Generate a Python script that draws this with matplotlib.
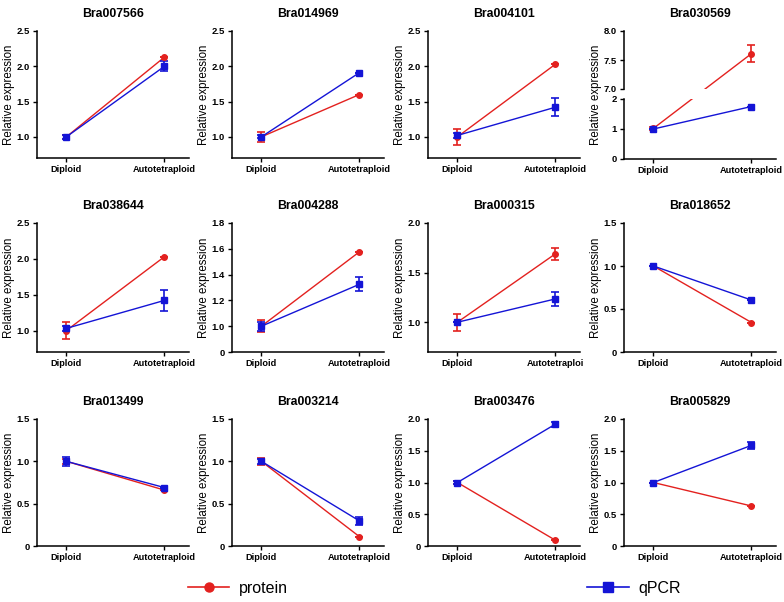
import matplotlib.pyplot as plt
from matplotlib.lines import Line2D

plt.rcParams['font.family'] = ['Liberation Sans', 'DejaVu Sans']

# values (Diploid, Autotetraploid)
genes = ['Bra007566', 'Bra014969', 'Bra004101', 'Bra030569',
         'Bra038644', 'Bra004288', 'Bra000315', 'Bra018652',
         'Bra013499', 'Bra003214', 'Bra003476', 'Bra005829']
groups = ['Diploid', 'Autotetraploid']
protein = [[1.0, 2.13], [1.0, 1.60], [1.0, 2.03], [1.02, 7.61],
           [1.0, 2.03], [1.0, 1.577], [1.0, 1.69], [1.0, 0.343],
           [1.0, 0.66], [1.0, 0.11], [1.0, 0.09], [1.0, 0.63]]
protein_err = [[0.03, 0.0], [0.07, 0.0], [0.11, 0.0], [0.06, 0.15],
               [0.12, 0.0], [0.045, 0.0], [0.085, 0.06], [0.0, 0.0],
               [0.03, 0.0], [0.04, 0.0], [0.03, 0.0], [0.0, 0.0]]
qpcr = [[1.0, 2.0], [1.0, 1.91], [1.02, 1.42], [1.0, 1.75],
        [1.03, 1.42], [1.0, 1.325], [1.0, 1.235], [1.0, 0.604],
        [1.0, 0.69], [1.0, 0.296], [1.0, 1.92], [1.0, 1.585]]
qpcr_err = [[0.03, 0.07], [0.02, 0.0], [0.03, 0.13], [0.0, 0.0],
            [0.03, 0.145], [0.035, 0.055], [0.0, 0.07], [0.0, 0.0],
            [0.055, 0.0], [0.03, 0.05], [0.03, 0.04], [0.0, 0.06]]
y_limits = [(0.7, 2.5), (0.7, 2.5), (0.7, 2.5), None,
            (0.7, 2.5), (0.8, 1.8), (0.7, 2.0), (0.0, 1.5),
            (0.0, 1.5), (0.0, 1.5), (0.0, 2.0), (0.0, 2.0)]
y_ticks = [[1.0, 1.5, 2.0, 2.5], [1.0, 1.5, 2.0, 2.5], [1.0, 1.5, 2.0, 2.5], None,
           [1.0, 1.5, 2.0, 2.5], [0.8, 1.0, 1.2, 1.4, 1.6, 1.8], [1.0, 1.5, 2.0], [0.0, 0.5, 1.0, 1.5],
           [0.0, 0.5, 1.0, 1.5], [0.0, 0.5, 1.0, 1.5], [0.0, 0.5, 1.0, 1.5, 2.0], [0.0, 0.5, 1.0, 1.5, 2.0]]
broken_top = (7.0, 8.0, [7.0, 7.5, 8.0])
broken_bottom = (0.0, 2.0, [0, 1, 2])

RED = '#e3211f'
BLUE = '#1414d6'
W, H = 784, 602
col_left = [37, 232, 428, 624]
row_span = [(31, 158), (223, 352), (419, 546)]
AX_W = 152
TICK_FONT = dict(fontsize=6.6, fontweight='bold')
LABEL_X = -0.145
TITLE_PAD = 10

fig = plt.figure(figsize=(W / 100, H / 100), dpi=100)


def px_axes(left, top, bottom):
    return fig.add_axes([left / W, 1 - bottom / H, AX_W / W, (bottom - top) / H])


def style(ax, show_x=True):
    ax.set_xlim(-0.3, 1.25)
    for s in ['top', 'right']:
        ax.spines[s].set_visible(False)
    ax.spines['left'].set_linewidth(1.1)
    ax.spines['bottom'].set_linewidth(1.1)
    ax.tick_params(direction='out', length=3, width=1, pad=2, labelsize=6.8)
    for lab in ax.get_yticklabels():
        lab.set_fontweight('bold')
    if show_x:
        ax.set_xticks([0, 1])
    else:
        ax.spines['bottom'].set_visible(False)
        ax.set_xticks([])


def draw_series(ax, x, y, err, color, marker, ms):
    ax.plot(x, y, color=color, lw=1.0, zorder=2)
    ax.errorbar(x, y, yerr=err, fmt=marker, color=color, ms=ms, elinewidth=1.2,
                capsize=3, capthick=1.2, zorder=3)


for i, gene in enumerate(genes):
    r, c = divmod(i, 4)
    top, bottom = row_span[r]
    left = col_left[c]
    xlab = list(groups)
    if gene == 'Bra000315':
        xlab[1] = 'Autotetraploi'

    if y_limits[i] is None:
        # split y axis panel
        gap_top, gap_bot = 89, 99
        ax_t = px_axes(left, top, gap_top)
        ax_b = px_axes(left, gap_bot, bottom + 1)
        ax_t.set_ylim(broken_top[0], broken_top[1])
        ax_t.set_yticks(broken_top[2])
        ax_t.set_yticklabels(['7.0', '7.5', '8.0'])
        ax_b.set_ylim(broken_bottom[0], broken_bottom[1])
        ax_b.set_yticks(broken_bottom[2])
        ax_b.set_yticklabels(['0', '1', '2'])
        style(ax_t, show_x=False)
        style(ax_b)
        ax_b.set_xticklabels(xlab, **TICK_FONT)

        # protein line runs straight across both parts
        p0 = ax_b.transData.transform((0, protein[i][0]))
        p1 = ax_t.transData.transform((1, protein[i][1]))
        yb_end = ax_b.transData.inverted().transform(p1)[1]
        yt_start = ax_t.transData.inverted().transform(p0)[1]
        ax_b.plot([0, 1], [protein[i][0], yb_end], color=RED, lw=1.0, zorder=2)
        ax_t.plot([0, 1], [yt_start, protein[i][1]], color=RED, lw=1.0, zorder=2)
        ax_b.errorbar([0], [protein[i][0]], yerr=[protein_err[i][0]], fmt='o', color=RED,
                      ms=4, elinewidth=1.2, capsize=3, capthick=1.2, zorder=3)
        ax_t.errorbar([1], [protein[i][1]], yerr=[protein_err[i][1]], fmt='o', color=RED,
                      ms=4, elinewidth=1.2, capsize=3, capthick=1.2, zorder=3)
        draw_series(ax_b, [0, 1], qpcr[i], qpcr_err[i], BLUE, 's', 4.5)
        ax_t.set_title(gene, fontsize=8.8, fontweight='bold', pad=TITLE_PAD)
        ax_b.set_ylabel('Relative expression', fontsize=8.3)
        ax_b.yaxis.set_label_coords(LABEL_X, 1.07)
        continue

    ax = px_axes(left, top, bottom)
    ax.set_ylim(*y_limits[i])
    ax.set_yticks(y_ticks[i])
    labels = ['0' if t == 0 else f'{t:.1f}' for t in y_ticks[i]]
    if gene == 'Bra004288':
        labels[0] = '0'
    ax.set_yticklabels(labels)
    style(ax)
    ax.set_xticklabels(xlab, **TICK_FONT)
    draw_series(ax, [0, 1], protein[i], protein_err[i], RED, 'o', 4)
    draw_series(ax, [0, 1], qpcr[i], qpcr_err[i], BLUE, 's', 4.5)
    ax.set_title(gene, fontsize=8.8, fontweight='bold', pad=TITLE_PAD)
    ax.set_ylabel('Relative expression', fontsize=8.3)
    ax.yaxis.set_label_coords(LABEL_X, 0.5)

h_protein = Line2D([], [], color=RED, lw=1.2, marker='o', ms=6.5)
h_qpcr = Line2D([], [], color=BLUE, lw=1.2, marker='s', ms=6.5)
fig.legend([h_protein], ['protein'], loc='center', bbox_to_anchor=(238 / W, 1 - 588 / H),
           frameon=False, fontsize=11.5, handlelength=2.6, handletextpad=0.6)
fig.legend([h_qpcr], ['qPCR'], loc='center', bbox_to_anchor=(634 / W, 1 - 588 / H),
           frameon=False, fontsize=11.5, handlelength=2.6, handletextpad=0.6)

fig.savefig('out.png', dpi=100)
